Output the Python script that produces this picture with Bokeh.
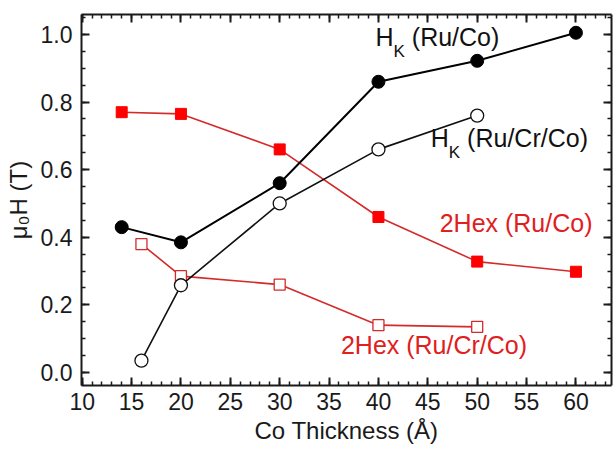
from bokeh.plotting import figure
from bokeh.models import (Range1d, LinearAxis, SingleIntervalTicker, Label,
                          NumeralTickFormatter, CustomJSTickFormatter)
from bokeh.embed import file_html
from bokeh.resources import INLINE

# ---- data ----
x_hk_ruco = [14, 20, 30, 40, 50, 60]
y_hk_ruco = [0.43, 0.385, 0.56, 0.86, 0.922, 1.005]

x_hk_rucrco = [16, 20, 30, 40, 50]
y_hk_rucrco = [0.035, 0.258, 0.50, 0.66, 0.76]

x_hex_ruco = [14, 20, 30, 40, 50, 60]
y_hex_ruco = [0.77, 0.765, 0.66, 0.46, 0.328, 0.298]

x_hex_rucrco = [16, 20, 30, 40, 50]
y_hex_rucrco = [0.38, 0.285, 0.26, 0.14, 0.135]

x_ticks_interval = 5
y_ticks_interval = 0.2

FONT = "Liberation Sans"
RED_FILL = "#ff0000"
RED_LINE = "#d42a2a"
RED_TEXT = "#e0201e"
INK = "#1a1a1a"

p = figure(width=613, height=449, output_backend="svg", toolbar_location=None,
           x_range=Range1d(9.93, 63.6), y_range=Range1d(-0.0385, 1.059),
           min_border_left=81, min_border_right=2, min_border_top=14,
           min_border_bottom=64)
p.grid.visible = False
p.outline_line_color = None
p.background_fill_color = "white"
p.border_fill_color = "white"

def style_axis(ax, show_labels):
    ax.axis_line_width = 2
    ax.axis_line_color = INK
    ax.major_tick_in = 8
    ax.major_tick_out = 0
    ax.minor_tick_in = 4
    ax.minor_tick_out = 0
    ax.major_tick_line_width = 2
    ax.minor_tick_line_width = 1.5
    ax.major_tick_line_color = INK
    ax.minor_tick_line_color = INK
    if show_labels:
        ax.major_label_text_font = FONT
        ax.major_label_text_font_size = "23px"
        ax.major_label_text_color = INK
        ax.axis_label_text_font = FONT
        ax.axis_label_text_font_size = "24px"
        ax.axis_label_text_font_style = "normal"
        ax.axis_label_text_color = INK
    else:
        ax.formatter = CustomJSTickFormatter(code="return ''")
        ax.major_label_standoff = 0
        ax.axis_label_standoff = 0

xa = p.xaxis[0]
xa.ticker = SingleIntervalTicker(interval=x_ticks_interval, num_minor_ticks=5)
xa.axis_label = "Co Thickness (Å)"
xa.major_label_standoff = 7
xa.axis_label_standoff = 4
style_axis(xa, True)

ya = p.yaxis[0]
ya.ticker = SingleIntervalTicker(interval=y_ticks_interval, num_minor_ticks=4)
ya.formatter = NumeralTickFormatter(format="0.0")
ya.axis_label = "μ₀H (T)"
ya.major_label_standoff = 9
ya.axis_label_standoff = 6
style_axis(ya, True)

top = LinearAxis(ticker=SingleIntervalTicker(interval=x_ticks_interval, num_minor_ticks=5))
style_axis(top, False)
p.add_layout(top, "above")
right = LinearAxis(ticker=SingleIntervalTicker(interval=y_ticks_interval, num_minor_ticks=4))
style_axis(right, False)
p.add_layout(right, "right")

# ---- series ----
p.line(x_hex_rucrco, y_hex_rucrco, line_color=RED_LINE, line_width=1.6)
p.scatter(x_hex_rucrco, y_hex_rucrco, marker="square", size=11,
          fill_color="white", line_color=RED_LINE, line_width=1.3)

p.line(x_hex_ruco, y_hex_ruco, line_color=RED_LINE, line_width=1.6)
p.scatter(x_hex_ruco, y_hex_ruco, marker="square", size=11,
          fill_color=RED_FILL, line_color=RED_FILL, line_width=1)

p.line(x_hk_rucrco, y_hk_rucrco, line_color="#111111", line_width=1.6)
p.scatter(x_hk_rucrco, y_hk_rucrco, marker="circle", size=13,
          fill_color="white", line_color="#111111", line_width=1.3)

p.line(x_hk_ruco, y_hk_ruco, line_color="#000000", line_width=2)
p.scatter(x_hk_ruco, y_hk_ruco, marker="circle", size=13,
          fill_color="#000000", line_color="#000000")

# ---- annotations ----
FS = 25
SUB = 17

def hk_label(x, y, rest):
    p.add_layout(Label(x=x, y=y, text="H", text_font=FONT,
                       text_font_size=f"{FS}px", text_color="#111111"))
    wH = 0.722 * FS
    p.add_layout(Label(x=x, y=y, x_offset=wH, y_offset=-10, text="K",
                       text_font=FONT, text_font_size=f"{SUB}px",
                       text_color="#111111"))
    wK = 0.667 * SUB
    p.add_layout(Label(x=x, y=y, x_offset=wH + wK, text=rest, text_font=FONT,
                       text_font_size=f"{FS}px", text_color="#111111"))

hk_label(39.7, 0.95, "\u00a0(Ru/Co)")
hk_label(45.3, 0.651, "\u00a0(Ru/Cr/Co)")

p.add_layout(Label(x=46.2, y=0.40, text="2Hex (Ru/Co)", text_font=FONT,
                   text_font_size=f"{FS}px", text_color=RED_TEXT))
p.add_layout(Label(x=36.2, y=0.041, text="2Hex (Ru/Cr/Co)", text_font=FONT,
                   text_font_size=f"{FS}px", text_color=RED_TEXT))

open("out.html", "w").write(file_html(p, INLINE))
